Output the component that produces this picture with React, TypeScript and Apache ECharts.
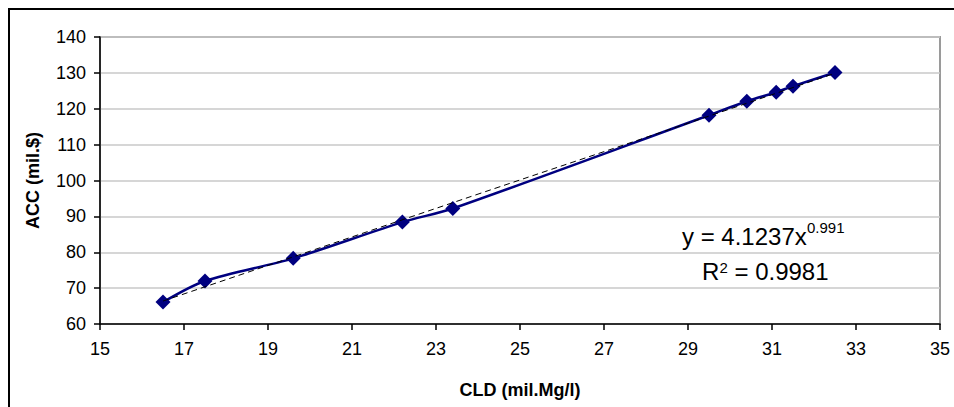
import React, { useEffect, useRef } from "react";
import * as echarts from "echarts";

const cldValues = [16.5, 17.5, 19.6, 22.2, 23.4, 29.5, 30.4, 31.1, 31.5, 32.5];
const accValues = [66.1, 72.0, 78.3, 88.4, 92.2, 118.2, 122.1, 124.6, 126.3, 130.1];
const trendX = [16.5, 20, 24, 28, 32.5];
const trendY = [66.4, 80.3, 96.2, 112.0, 129.9];
const xTitle = "CLD (mil.Mg/l)";
const yTitle = "ACC (mil.$)";
const eqMain = "y = 4.1237x";
const eqExp = "0.991";
const r2Main = "R";
const r2Exp = "2";
const r2Rest = " = 0.9981";

const FONT = "Liberation Sans, Arial, sans-serif";

export default function App() {
  const ref = useRef<HTMLDivElement>(null);
  useEffect(() => {
    if (!ref.current) return;
    const chart = echarts.init(ref.current, undefined, { renderer: "svg" });
    const pts = cldValues.map((x, i) => [x, accValues[i]]);
    const trend = trendX.map((x, i) => [x, trendY[i]]);
    chart.setOption({
      animation: false,
      backgroundColor: "#ffffff",
      textStyle: { fontFamily: FONT },
      grid: {
        left: 100,
        top: 37,
        right: 14,
        bottom: 83,
        show: true,
        borderColor: "#9a9a9a",
        borderWidth: 2,
        backgroundColor: "transparent",
      },
      xAxis: {
        type: "value",
        min: 15,
        max: 35,
        interval: 2,
        name: xTitle,
        nameLocation: "middle",
        nameGap: 57,
        nameTextStyle: { fontSize: 18, fontWeight: "bold", color: "#000", fontFamily: FONT },
        axisLine: { show: true, onZero: false, lineStyle: { color: "#000", width: 1.5 } },
        axisTick: { show: true, inside: false, length: 6, lineStyle: { color: "#000", width: 1.5 } },
        axisLabel: { fontSize: 18, color: "#000", margin: 16, fontFamily: FONT },
        splitLine: { show: false },
      },
      yAxis: {
        type: "value",
        min: 60,
        max: 140,
        interval: 10,
        name: yTitle,
        nameLocation: "middle",
        nameRotate: 90,
        nameGap: 58,
        nameTextStyle: { fontSize: 18, fontWeight: "bold", color: "#000", fontFamily: FONT },
        axisLine: { show: true, onZero: false, lineStyle: { color: "#000", width: 1.5 } },
        axisTick: { show: true, inside: false, length: 6, lineStyle: { color: "#000", width: 1.5 } },
        axisLabel: { fontSize: 18, color: "#000", margin: 14, fontFamily: FONT },
        splitLine: { show: true, lineStyle: { color: "#c8c8c8", width: 1.5 } },
      },
      series: [
        {
          type: "line",
          data: pts,
          smooth: 0.3,
          symbol: "diamond",
          symbolSize: 15,
          lineStyle: { color: "#000080", width: 2.5 },
          itemStyle: { color: "#000080" },
          z: 3,
        },
        {
          type: "line",
          data: trend,
          smooth: true,
          symbol: "none",
          lineStyle: { color: "#000", width: 1, type: [6, 4] },
          z: 4,
        },
      ],
      graphic: [
        {
          type: "rect",
          shape: { x: 9, y: 9, width: 1000, height: 1000 },
          style: { fill: "none", stroke: "#000", lineWidth: 2 },
          silent: true,
        },
        {
          type: "text",
          x: 682,
          y: 236.7,
          style: { text: eqMain, fontSize: 24, fontFamily: FONT, fill: "#000", textAlign: "left", textVerticalAlign: "middle" },
        },
        {
          type: "text",
          x: 807,
          y: 227,
          style: { text: eqExp, fontSize: 15, fontFamily: FONT, fill: "#000", textAlign: "left", textVerticalAlign: "middle" },
        },
        {
          type: "text",
          x: 702,
          y: 271.7,
          style: { text: r2Main, fontSize: 24, fontFamily: FONT, fill: "#000", textAlign: "left", textVerticalAlign: "middle" },
        },
        {
          type: "text",
          x: 719.5,
          y: 267,
          style: { text: r2Exp, fontSize: 15, fontFamily: FONT, fill: "#000", textAlign: "left", textVerticalAlign: "middle" },
        },
        {
          type: "text",
          x: 727.8,
          y: 271.7,
          style: { text: r2Rest, fontSize: 24, fontFamily: FONT, fill: "#000", textAlign: "left", textVerticalAlign: "middle" },
        },
      ],
    });
    return () => chart.dispose();
  }, []);
  return (
    <div
      ref={ref}
      style={{ position: "absolute", left: 0, top: 0, width: 954, height: 407 }}
    />
  );
}
